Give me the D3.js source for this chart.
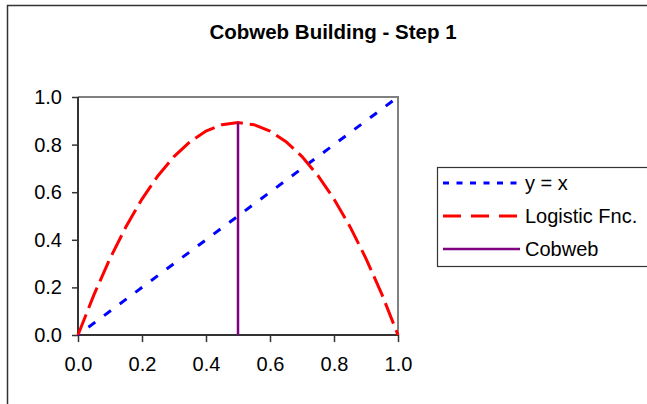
<!DOCTYPE html>
<html>
<head>
<meta charset="utf-8">
<script src="https://cdn.jsdelivr.net/npm/d3@7"></script>
<style>
  html, body { margin: 0; padding: 0; background: #fff; }
  svg { display: block; font-family: Arial, "Liberation Sans", sans-serif; }
</style>
</head>
<body>
<svg id="chart" width="647" height="404"></svg>
<script>
// Logistic map f(x) = r x (1 - x), sampled at x = 0, 0.05, ..., 1 (r ≈ 3.57)
const logisticX = [0, 0.05, 0.1, 0.15, 0.2, 0.25, 0.3, 0.35, 0.4, 0.45, 0.5,
                   0.55, 0.6, 0.65, 0.7, 0.75, 0.8, 0.85, 0.9, 0.95, 1];
const logisticY = [0, 0.1696, 0.3213, 0.4552, 0.5712, 0.6694, 0.7497, 0.8122, 0.8568, 0.8836, 0.8925,
                   0.8836, 0.8568, 0.8122, 0.7497, 0.6694, 0.5712, 0.4552, 0.3213, 0.1696, 0];
// Identity line y = x
const identityX = [0, 1];
const identityY = [0, 1];
// First cobweb step: vertical from (x0, 0) up to (x0, f(x0))
const cobwebX = [0.5, 0.5];
const cobwebY = [0, 0.8925];

const ticks = [0, 0.2, 0.4, 0.6, 0.8, 1.0];
const seriesNames = ["y = x", "Logistic Fnc.", "Cobweb"];
const chartTitle = "Cobweb Building - Step 1";

const svg = d3.select("#chart");

// Outer chart frame
svg.append("rect")
  .attr("x", 7.5).attr("y", 5.5)
  .attr("width", 660).attr("height", 420)
  .attr("fill", "none").attr("stroke", "#333").attr("stroke-width", 1.5);

svg.append("text")
  .attr("x", 333).attr("y", 39)
  .attr("text-anchor", "middle")
  .attr("font-size", 20.5).attr("font-weight", "bold")
  .attr("fill", "#000")
  .text(chartTitle);

const plot = { left: 78, right: 398, top: 97, bottom: 335 };
const x = d3.scaleLinear().domain([0, 1]).range([plot.left, plot.right]);
const y = d3.scaleLinear().domain([0, 1]).range([plot.bottom, plot.top]);

// Plot frame: grey top/right edges
svg.append("path")
  .attr("d", `M${plot.left},${plot.top}H${plot.right}V${plot.bottom}`)
  .attr("fill", "none").attr("stroke", "#808080").attr("stroke-width", 2);

const fmt = d3.format(".1f");

const xAxis = svg.append("g")
  .attr("transform", `translate(0,${plot.bottom})`)
  .call(d3.axisBottom(x).tickValues(ticks).tickFormat(fmt).tickSize(7).tickPadding(15));
const yAxis = svg.append("g")
  .attr("transform", `translate(${plot.left},0)`)
  .call(d3.axisLeft(y).tickValues(ticks).tickFormat(fmt).tickSize(6).tickPadding(10));

[xAxis, yAxis].forEach(g => {
  g.selectAll(".domain").attr("stroke", "#333").attr("stroke-width", 2);
  g.selectAll(".tick line").attr("stroke", "#333").attr("stroke-width", 1.5);
  g.selectAll("text").attr("font-size", 20).attr("fill", "#000")
    .attr("font-family", "Arial, 'Liberation Sans', sans-serif");
});
yAxis.selectAll(".domain").attr("d", `M0,${plot.top}V${plot.bottom}`);
xAxis.selectAll(".domain").attr("d", `M${plot.left},0H${plot.right}`);

const line = d3.line().x(d => x(d[0])).y(d => y(d[1]));

// y = x
svg.append("path")
  .datum(identityX.map((v, i) => [v, identityY[i]]))
  .attr("d", line)
  .attr("fill", "none").attr("stroke", "#0000ff").attr("stroke-width", 3)
  .attr("stroke-dasharray", "8.5,11").attr("stroke-dashoffset", 6.5);

// Logistic function
svg.append("path")
  .datum(logisticX.map((v, i) => [v, logisticY[i]]))
  .attr("d", line)
  .attr("fill", "none").attr("stroke", "#ff0000").attr("stroke-width", 3)
  .attr("stroke-dasharray", "22,7");

// Cobweb
svg.append("path")
  .datum(cobwebX.map((v, i) => [v, cobwebY[i]]))
  .attr("d", line)
  .attr("fill", "none").attr("stroke", "#800080").attr("stroke-width", 2.5);

// Legend
const legend = svg.append("g");
legend.append("rect")
  .attr("x", 437.5).attr("y", 167.5).attr("width", 230).attr("height", 99)
  .attr("fill", "#fff").attr("stroke", "#333").attr("stroke-width", 1.2);

const legendStyles = [
  { color: "#0000ff", width: 3, dash: "6,7.5" },
  { color: "#ff0000", width: 3, dash: "18,10" },
  { color: "#800080", width: 2.5, dash: null }
];
const rowY = [183, 216, 249];
seriesNames.forEach((name, i) => {
  const st = legendStyles[i];
  legend.append("line")
    .attr("x1", 443).attr("x2", 520).attr("y1", rowY[i]).attr("y2", rowY[i])
    .attr("stroke", st.color).attr("stroke-width", st.width)
    .attr("stroke-dasharray", st.dash);
  legend.append("text")
    .attr("x", 525).attr("y", rowY[i]).attr("dy", "0.35em")
    .attr("font-size", 20).attr("fill", "#000")
    .text(name);
});
</script>
</body>
</html>
